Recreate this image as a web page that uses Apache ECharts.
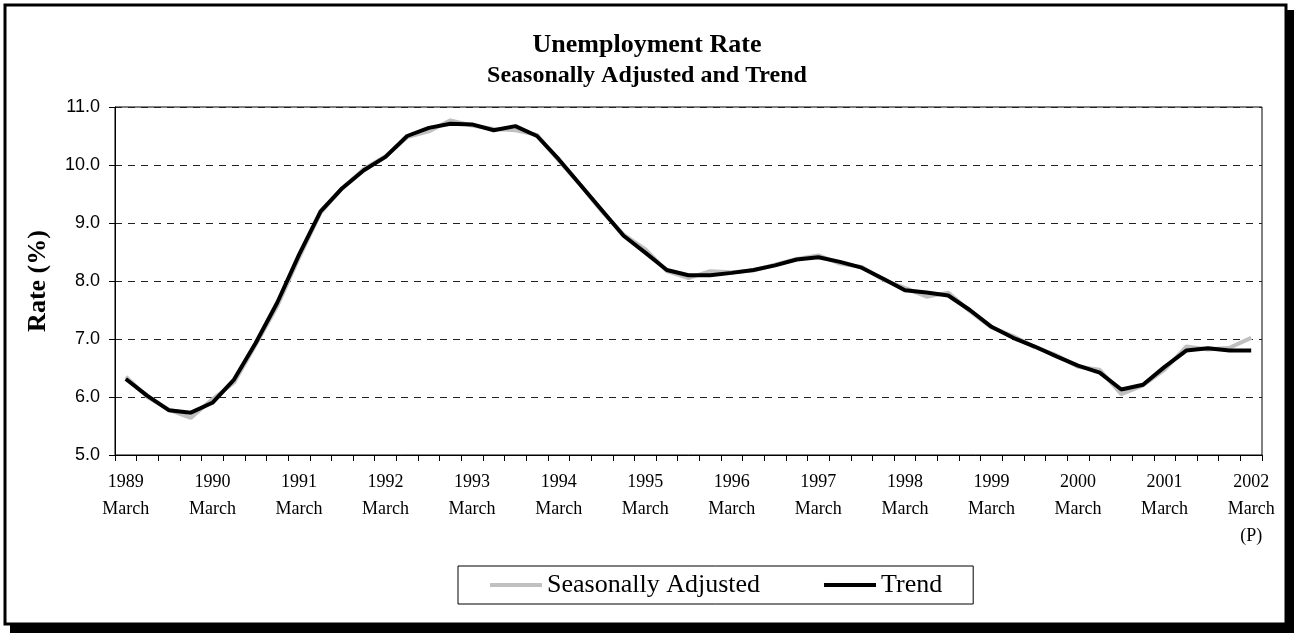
<!DOCTYPE html>
<html>
<head>
<meta charset="utf-8">
<script src="https://cdn.jsdelivr.net/npm/echarts@6/dist/echarts.min.js"></script>
<style>
    html, body { margin: 0; padding: 0; background: #fff; }
    #chart { width: 1294px; height: 633px; }
</style>
</head>
<body>
<div id="chart"></div>
<script>
// quarters, March 1989 .. March 2002
const categories = [
    'Mar 1989', 'Jun 1989', 'Sep 1989', 'Dec 1989',
    'Mar 1990', 'Jun 1990', 'Sep 1990', 'Dec 1990',
    'Mar 1991', 'Jun 1991', 'Sep 1991', 'Dec 1991',
    'Mar 1992', 'Jun 1992', 'Sep 1992', 'Dec 1992',
    'Mar 1993', 'Jun 1993', 'Sep 1993', 'Dec 1993',
    'Mar 1994', 'Jun 1994', 'Sep 1994', 'Dec 1994',
    'Mar 1995', 'Jun 1995', 'Sep 1995', 'Dec 1995',
    'Mar 1996', 'Jun 1996', 'Sep 1996', 'Dec 1996',
    'Mar 1997', 'Jun 1997', 'Sep 1997', 'Dec 1997',
    'Mar 1998', 'Jun 1998', 'Sep 1998', 'Dec 1998',
    'Mar 1999', 'Jun 1999', 'Sep 1999', 'Dec 1999',
    'Mar 2000', 'Jun 2000', 'Sep 2000', 'Dec 2000',
    'Mar 2001', 'Jun 2001', 'Sep 2001', 'Dec 2001',
    'Mar 2002'
]

// labels shown under every March
const tickLabels = {
    'Mar 1989': '1989\nMarch', 'Mar 1990': '1990\nMarch', 'Mar 1991': '1991\nMarch',
    'Mar 1992': '1992\nMarch', 'Mar 1993': '1993\nMarch', 'Mar 1994': '1994\nMarch',
    'Mar 1995': '1995\nMarch', 'Mar 1996': '1996\nMarch', 'Mar 1997': '1997\nMarch',
    'Mar 1998': '1998\nMarch', 'Mar 1999': '1999\nMarch', 'Mar 2000': '2000\nMarch',
    'Mar 2001': '2001\nMarch', 'Mar 2002': '2002\nMarch\n(P)'
}

const seasonallyAdjusted = [
    6.35, 6.00, 5.78, 5.64,
    5.96, 6.25, 6.90, 7.57,
    8.40, 9.18, 9.60, 9.93,
    10.15, 10.48, 10.58, 10.77,
    10.68, 10.62, 10.60, 10.52,
    10.08, 9.66, 9.20, 8.80,
    8.55, 8.17, 8.05, 8.17,
    8.15, 8.18, 8.28, 8.38,
    8.44, 8.30, 8.24, 8.02,
    7.88, 7.73, 7.80, 7.48,
    7.20, 7.05, 6.86, 6.72,
    6.52, 6.47, 6.05, 6.20,
    6.47, 6.87, 6.82, 6.85,
    7.02
]

const trend = [
    6.31, 6.02, 5.77, 5.73,
    5.90, 6.30, 6.93, 7.63,
    8.45, 9.20, 9.60, 9.91,
    10.14, 10.50, 10.64, 10.71,
    10.70, 10.60, 10.67, 10.50,
    10.10, 9.66, 9.22, 8.78,
    8.49, 8.19, 8.10, 8.10,
    8.14, 8.19, 8.27, 8.37,
    8.41, 8.33, 8.23, 8.04,
    7.84, 7.80, 7.75, 7.50,
    7.21, 7.02, 6.87, 6.70,
    6.54, 6.42, 6.13, 6.21,
    6.52, 6.80, 6.84, 6.80,
    6.80
]

const serif = 'Liberation Serif'
const sans = 'Liberation Sans'

const chart = echarts.init(document.getElementById('chart'))

chart.setOption({
    animation: false,
    backgroundColor: '#fff',
    // outer frame with shadow
    graphic: [
        {
            type: 'rect', z: -10, silent: true,
            shape: { x: 10, y: 10, width: 1284, height: 623 },
            style: { fill: '#000' }
        },
        {
            type: 'rect', z: -9, silent: true,
            shape: { x: 5, y: 5, width: 1281, height: 619 },
            style: { fill: '#fff', stroke: '#000', lineWidth: 3 }
        }
    ],
    title: {
        text: 'Unemployment Rate',
        subtext: 'Seasonally Adjusted and Trend',
        left: 'center',
        top: 27,
        itemGap: 6,
        textStyle: { fontFamily: serif, fontWeight: 'bold', fontSize: 26, color: '#000', lineHeight: 26 },
        subtextStyle: { fontFamily: serif, fontWeight: 'bold', fontSize: 24, color: '#000', lineHeight: 24 }
    },
    legend: {
        left: 458,
        top: 566,
        padding: [6, 31, 6, 32],
        itemGap: 64,
        itemWidth: 52,
        itemHeight: 4,
        icon: 'rect',
        borderColor: '#000',
        borderWidth: 1,
        textStyle: { fontFamily: serif, fontSize: 26, color: '#000' },
        data: ['Seasonally Adjusted', 'Trend']
    },
    grid: {
        left: 115,
        right: 32,
        top: 107,
        bottom: 178,
        show: true,
        borderColor: '#000',
        borderWidth: 1
    },
    xAxis: {
        type: 'category',
        data: categories,
        boundaryGap: true,
        axisLine: { lineStyle: { color: '#000', width: 1 } },
        axisTick: { show: true, interval: 0, length: 6, lineStyle: { color: '#000' } },
        axisLabel: {
            interval: 3,
            margin: 14,
            fontFamily: serif,
            fontSize: 18,
            lineHeight: 27,
            color: '#000',
            formatter: v => tickLabels[v] || ''
        },
        splitLine: { show: false }
    },
    yAxis: {
        type: 'value',
        min: 5,
        max: 11,
        interval: 1,
        name: 'Rate (%)',
        nameLocation: 'middle',
        nameGap: 64,
        nameTextStyle: { fontFamily: serif, fontWeight: 'bold', fontSize: 26, color: '#000' },
        axisLine: { show: true, lineStyle: { color: '#000', width: 1 } },
        axisTick: { show: true, length: 6, lineStyle: { color: '#000' } },
        axisLabel: {
            margin: 15,
            fontFamily: sans,
            fontSize: 18,
            color: '#000',
            formatter: v => v.toFixed(1)
        },
        splitLine: { show: true, lineStyle: { color: '#222', width: 1, type: [7, 6] } }
    },
    series: [
        {
            name: 'Seasonally Adjusted',
            type: 'line',
            data: seasonallyAdjusted,
            symbol: 'none',
            lineStyle: { color: '#c0c0c0', width: 4 },
            itemStyle: { color: '#c0c0c0' },
            z: 2
        },
        {
            name: 'Trend',
            type: 'line',
            data: trend,
            symbol: 'none',
            lineStyle: { color: '#000', width: 4 },
            itemStyle: { color: '#000' },
            z: 3
        }
    ]
})
</script>
</body>
</html>
